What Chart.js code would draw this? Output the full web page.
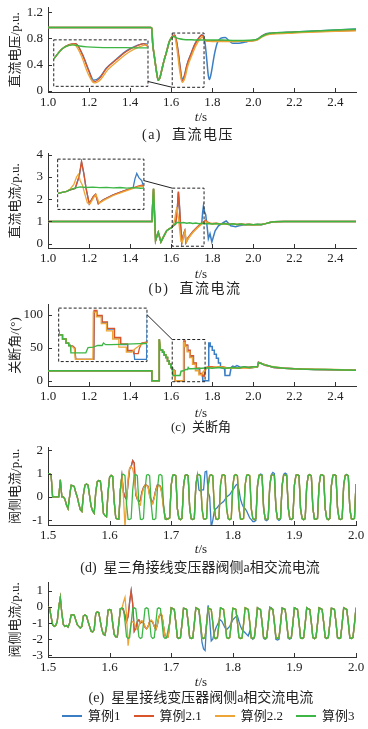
<!DOCTYPE html>
<html>
<head>
<meta charset="utf-8">
<script src="https://cdn.jsdelivr.net/npm/chart.js@4.4.1/dist/chart.umd.min.js"></script>
<style>
  html, body { margin: 0; padding: 0; background: #fff; }
  #page { position: relative; width: 368px; height: 729px; overflow: hidden;
          font-family: 'Liberation Serif', 'Noto Sans CJK SC', serif; color: #222; }
  #page canvas { position: absolute; left: 0; }
  .lbl { position: absolute; white-space: nowrap; line-height: 16px; transform: translateX(-50%); }
  .xt { font-size: 13px; }
  .cap { font-size: 14px; }
  #legend { position: absolute; top: 708px; left: 62px; display: flex; gap: 13px; font-size: 13px; line-height: 16px; }
  #legend span.item { display: flex; align-items: center; gap: 6px; }
  #legend span.swatch { display: inline-block; width: 20px; height: 2px; }
</style>
</head>
<body>
<div id="page"></div>
<script>
// ---- series names / colours ----
const CASE_NAMES = ['算例1', '算例2.1', '算例2.2', '算例3'];
const COLORS = ['#3b7ec4', '#d9542b', '#eca536', '#3db646'];

// ---- (a) 直流电压, [t, p.u.] ----
const vdcCommon = [[1.0,0.97],[1.5,0.97],[1.505,0.96],[1.51,0.72],[1.52,0.48],[1.53,0.26],[1.537,0.16],[1.545,0.2],[1.555,0.33],[1.565,0.46],[1.576,0.58],[1.592,0.76]];
const vdcCase1 = vdcCommon.concat([[1.605,0.83],[1.618,0.85],[1.631,0.66],[1.644,0.35],[1.653,0.18],[1.664,0.23],[1.677,0.4],[1.697,0.57],[1.716,0.72],[1.736,0.815],[1.75,0.855],[1.758,0.84],[1.766,0.7],[1.774,0.45],[1.78,0.25],[1.786,0.17],[1.795,0.27],[1.81,0.55],[1.825,0.74],[1.84,0.8],[1.863,0.815],[1.88,0.77],[1.9,0.725],[1.93,0.725],[1.96,0.745],[1.98,0.76],[2.0,0.77],[2.02,0.79],[2.04,0.835],[2.06,0.87],[2.08,0.88],[2.1,0.885],[2.2,0.9],[2.3,0.915],[2.4,0.93],[2.5,0.945]]);
const vdcCase21 = vdcCommon.concat([[1.605,0.835],[1.618,0.855],[1.631,0.65],[1.644,0.33],[1.652,0.15],[1.664,0.21],[1.677,0.39],[1.697,0.56],[1.716,0.71],[1.736,0.81],[1.749,0.855],[1.758,0.8],[1.765,0.77],[1.78,0.76],[1.8,0.765],[1.85,0.765],[1.9,0.76],[1.95,0.765],[2.0,0.77],[2.02,0.785],[2.04,0.83],[2.06,0.865],[2.08,0.875],[2.1,0.88],[2.2,0.895],[2.3,0.905],[2.4,0.915],[2.5,0.925]]);
const vdcCase22 = vdcCommon.concat([[1.605,0.82],[1.615,0.837],[1.628,0.65],[1.642,0.3],[1.654,0.13],[1.666,0.19],[1.68,0.37],[1.7,0.54],[1.72,0.69],[1.74,0.79],[1.755,0.83],[1.762,0.79],[1.77,0.765],[1.8,0.755],[1.85,0.755],[1.9,0.755],[1.95,0.76],[2.0,0.765],[2.02,0.78],[2.04,0.82],[2.06,0.85],[2.08,0.865],[2.1,0.87],[2.2,0.885],[2.3,0.9],[2.4,0.91],[2.5,0.92]]);
const vdcCase3 = vdcCommon.concat([[1.605,0.82],[1.612,0.83],[1.625,0.81],[1.64,0.795],[1.66,0.785],[1.7,0.78],[1.75,0.775],[1.8,0.775],[1.85,0.775],[1.9,0.77],[1.95,0.77],[2.0,0.775],[2.02,0.79],[2.04,0.83],[2.06,0.86],[2.08,0.88],[2.1,0.885],[2.2,0.9],[2.3,0.915],[2.4,0.93],[2.5,0.94]]);

// ---- (b) 直流电流 ----
const idcCommon = [[1.0,1.0],[1.506,1.0],[1.511,2.0],[1.514,2.47],[1.518,1.5],[1.524,0.14],[1.53,0.32],[1.537,0.51],[1.543,0.3],[1.55,0.07],[1.561,0.28],[1.578,0.58],[1.59,0.66],[1.602,0.72]];
const idcCase1 = idcCommon.concat([[1.61,0.8],[1.621,0.88],[1.63,1.55],[1.635,2.3],[1.64,1.7],[1.645,0.88],[1.652,0.06],[1.661,0.44],[1.666,0.56],[1.672,0.06],[1.683,0.27],[1.705,0.53],[1.727,0.74],[1.749,0.93],[1.753,1.4],[1.757,1.69],[1.762,1.45],[1.768,1.3],[1.775,0.75],[1.781,0.22],[1.789,0.44],[1.798,0.07],[1.814,0.58],[1.83,0.8],[1.855,0.95],[1.868,1.02],[1.875,0.95],[1.89,0.8],[1.914,0.76],[1.93,0.8],[1.95,0.84],[1.97,0.86],[1.99,0.84],[2.0,0.85],[2.02,0.86],[2.04,0.85],[2.06,0.9],[2.08,0.95],[2.1,0.98],[2.15,0.99],[2.2,1.0],[2.3,0.99],[2.4,1.0],[2.5,1.0]]);
const idcCase21 = idcCommon.concat([[1.61,0.8],[1.621,0.88],[1.63,1.57],[1.635,2.35],[1.64,1.7],[1.645,0.88],[1.652,0.05],[1.661,0.445],[1.666,0.565],[1.672,0.05],[1.683,0.27],[1.705,0.53],[1.727,0.74],[1.749,0.91],[1.76,1.0],[1.768,1.05],[1.775,0.97],[1.79,0.92],[1.8,0.9],[1.82,0.92],[1.84,0.88],[1.86,0.9],[1.88,0.87],[1.9,0.89],[1.92,0.86],[1.94,0.88],[1.96,0.86],[1.98,0.87],[2.0,0.85],[2.02,0.86],[2.04,0.86],[2.06,0.9],[2.08,0.95],[2.1,0.98],[2.15,1.0],[2.2,0.99],[2.3,1.0],[2.4,0.99],[2.5,1.0]]);
const idcCase22 = idcCommon.concat([[1.61,0.85],[1.618,1.1],[1.624,1.5],[1.628,1.65],[1.632,1.3],[1.637,1.05],[1.642,0.6],[1.648,0.1],[1.654,0.06],[1.662,0.4],[1.667,0.55],[1.674,0.08],[1.685,0.25],[1.705,0.5],[1.727,0.7],[1.749,0.88],[1.76,0.97],[1.768,1.0],[1.775,0.94],[1.79,0.91],[1.8,0.89],[1.82,0.91],[1.84,0.87],[1.86,0.89],[1.88,0.86],[1.9,0.88],[1.92,0.86],[1.94,0.87],[1.96,0.85],[1.98,0.86],[2.0,0.84],[2.02,0.85],[2.04,0.86],[2.06,0.9],[2.08,0.95],[2.1,0.98],[2.15,0.99],[2.2,1.0],[2.3,0.99],[2.4,1.0],[2.5,1.0]]);
const idcCase3 = idcCommon.concat([[1.61,0.82],[1.62,0.9],[1.632,0.96],[1.645,0.93],[1.66,0.95],[1.675,0.92],[1.69,0.94],[1.705,0.91],[1.72,0.93],[1.735,0.9],[1.75,0.92],[1.765,0.89],[1.78,0.91],[1.8,0.88],[1.82,0.9],[1.84,0.87],[1.86,0.9],[1.88,0.86],[1.9,0.89],[1.92,0.86],[1.94,0.88],[1.96,0.85],[1.98,0.87],[2.0,0.85],[2.02,0.87],[2.04,0.86],[2.06,0.9],[2.08,0.95],[2.1,0.98],[2.15,0.99],[2.2,1.0],[2.5,1.0]]);

// ---- (c) 关断角, degrees ----
const gamCommon = [[1.0,15],[1.505,15],[1.506,0],[1.541,0],[1.542,63],[1.546,48],[1.552,46],[1.558,46],[1.558,43],[1.566,43],[1.566,39],[1.574,39],[1.574,35],[1.582,35],[1.582,30],[1.59,30],[1.59,25],[1.598,25],[1.598,20],[1.604,20],[1.604,17]];
const gamCase1 = gamCommon.concat([[1.608,17],[1.614,16],[1.618,14],[1.62,0],[1.661,0],[1.662,59],[1.668,59],[1.668,53],[1.68,53],[1.68,45],[1.692,45],[1.692,37],[1.708,37],[1.708,26],[1.722,26],[1.722,18],[1.738,18],[1.738,10],[1.752,10],[1.754,0],[1.781,0],[1.783,57],[1.79,57],[1.79,52],[1.8,52],[1.8,46],[1.81,46],[1.81,40],[1.82,40],[1.82,34],[1.83,34],[1.83,27],[1.84,27],[1.84,20],[1.86,18],[1.862,8],[1.885,8],[1.892,20],[1.9,22],[1.91,21],[1.92,23],[1.94,20],[1.96,21],[1.98,19],[2.0,20],[2.02,21],[2.025,28],[2.04,26],[2.06,24],[2.08,22],[2.1,20],[2.15,19],[2.2,18],[2.3,17],[2.4,16.5],[2.5,16]]);
const gamCase21 = gamCommon.concat([[1.608,17],[1.614,16],[1.618,14],[1.62,0],[1.661,0],[1.662,60],[1.668,60],[1.668,54],[1.68,54],[1.68,46],[1.692,46],[1.692,38],[1.708,38],[1.708,27],[1.722,27],[1.722,19],[1.738,19],[1.738,11],[1.752,11],[1.752,7],[1.762,7],[1.765,14],[1.77,20],[1.78,21],[1.8,21],[1.82,20],[1.85,21],[1.88,19],[1.9,20],[1.93,19],[1.96,20],[2.0,21],[2.02,21],[2.025,28],[2.04,26],[2.06,23],[2.08,22],[2.1,20],[2.15,19],[2.2,18],[2.3,17],[2.4,16.5],[2.5,16]]);
const gamCase22 = gamCommon.concat([[1.608,17],[1.614,15],[1.617,13],[1.619,0],[1.659,0],[1.66,58],[1.667,58],[1.667,52],[1.678,52],[1.678,44],[1.69,44],[1.69,35],[1.704,35],[1.704,25],[1.718,25],[1.718,15],[1.735,15],[1.735,9],[1.748,9],[1.755,13],[1.765,17],[1.775,20],[1.8,20],[1.83,21],[1.86,20],[1.9,19],[1.94,20],[1.97,19],[2.0,20],[2.02,21],[2.025,27],[2.04,26],[2.06,24],[2.08,22],[2.1,21],[2.15,19],[2.2,18],[2.3,17.5],[2.4,17],[2.5,16]]);
const gamCase3 = gamCommon.concat([[1.608,17],[1.609,8],[1.643,8],[1.648,14.5],[1.66,15],[1.67,17],[1.68,17],[1.683,20],[1.688,18],[1.7,18],[1.72,18.5],[1.75,19],[1.78,19.5],[1.8,19],[1.83,20],[1.86,19],[1.9,20],[1.93,19],[1.95,21],[1.98,20],[2.0,21],[2.02,21],[2.025,27],[2.04,26],[2.05,24],[2.07,23],[2.09,21],[2.12,20],[2.15,19],[2.2,18],[2.25,17.5],[2.3,17],[2.35,17],[2.4,16.5],[2.5,16]]);

// ---- (d)/(e) 阀侧电流, sampled every 2.5 ms from 1.5 s ----
const AC_T0 = 1.5, AC_DT = 0.0025;
const acdCase3 = [
  1.0, 1.0, 0.95, 0.0, 0.0, 0.0, 0.0, 0.0,
  0.73, 0.0, 0.0, -0.1, -0.35, -0.5, 0.0, 0.5,
  0.48, 0.45, 0.2, 0.0, -0.3, -0.55, -0.62, 0.1,
  0.5, 0.55, 0.5, 0.05, -0.4, -0.6, -0.7, 0.2,
  0.65, 0.7, 0.68, 0.1, -0.7, -0.8, -0.85, 0.2,
  0.85, 0.92, 0.88, -0.2, -0.9, -0.95, -0.95, 0.3,
  0.95, 0.97, 0.9, -0.3, -0.95, -0.97, -0.92, 0.3,
  0.93, 0.96, 0.9, -0.3, -0.95, -0.97, -0.92, 0.3,
  0.93, 0.96, 0.9, -0.3, -0.95, -0.97, -0.92, 0.3,
  0.93, 0.96, 0.9, -0.3, -0.95, -0.97, -0.92, -0.9,
  0.5, 0.93, 0.95, 0.9, -0.5, -0.93, -0.97, -0.92,
  0.45, 0.92, 0.95, 0.91, -0.45, -0.94, -0.97, -0.93,
  0.5, 0.93, 0.96, 0.9, -0.5, -0.93, -0.96, -0.92,
  0.48, 0.92, 0.95, 0.9, -0.48, -0.94, -0.97, -0.92,
  0.5, 0.93, 0.95, 0.91, -0.5, -0.93, -0.97, -0.93,
  0.47, 0.92, 0.96, 0.9, -0.47, -0.94, -0.96, -0.92,
  0.5, 0.93, 0.95, 0.9, -0.5, -0.93, -0.97, -0.92,
  0.48, 0.93, 0.95, 0.91, -0.48, -0.94, -0.97, -0.93,
  0.5, 0.92, 0.96, 0.9, -0.5, -0.93, -0.96, -0.92,
  0.47, 0.93, 0.95, 0.9, -0.47, -0.94, -0.97, -0.92,
  0.5, 0.93, 0.95, 0.91, -0.5, -0.93, -0.97, -0.93,
  0.48, 0.92, 0.96, 0.9, -0.48, -0.94, -0.96, -0.92,
  0.5, 0.93, 0.95, 0.9, -0.5, -0.93, -0.97, -0.92,
  0.47, 0.93, 0.95, 0.91, -0.47, -0.94, -0.97, -0.93,
  0.5, 0.92, 0.96, 0.9, -0.5, -0.93, -0.96, -0.92,
  0.55
];
// deviations from 算例3, starting at sample 48 (1.62 s) and 97 (1.7425 s)
const acdSeg21 = [0.9, 0.2, 0.0, -0.1, 0.6, 1.2, 1.3, 1.55, 1.45, 0.1, -0.1, -0.2, -0.15, 0.2, 0.4, 0.5,
  0.5, 0.45, 0.1, -0.15, -0.25, 0.0, 0.3, 0.5, 0.5, 0.45, 0.2, -0.4, -0.85, -0.95, -0.95, -0.9];
const acdSeg22 = [0.9, 0.0, -1.3, -0.2, 0.8, 1.25, 1.3, 1.2, 0.9, 0.2, -0.05, -0.3, -0.35, 0.1, 0.35, 0.48,
  0.5, 0.42, 0.0, -0.2, -0.3, -0.05, 0.25, 0.45, 0.48, 0.4, 0.1, -0.5, -0.9, -0.97, -0.95, -0.9];
const acdSeg1 = [0.93, 0.3, 0.25, 0.3, 0.3, 1.07, 1.1, 0.2, 0.0, -1.3, -1.0, -0.6, -0.5, -0.45, -0.35, -0.3,
  -0.25, -0.2, -0.1, 0.0, 0.05, 0.1, 0.2, 0.3, 0.4, 0.5, 0.55, 0.3, -0.1, -0.3, -0.45, -0.5,
  -0.6, -0.75, -0.9, -0.97, -1.05, -1.05, -1.0,
  0.4, 0.9, 0.98, 0.95, -0.4, -0.98, -1.02, -0.95,
  0.4, 0.95, 1.05, 1.0, -0.4, -0.95, -1.0, -0.95,
  0.45, 0.97, 1.02, 0.98, -0.45, -0.95, -0.97, -0.92];

const aceCase3 = [
  0.0, -0.05, -0.6, -1.1, -1.2, -1.15, -0.9, 0.0,
  0.6, -0.4, -1.1, -1.2, -1.15, -1.25, -1.0, -0.5,
  -0.48, -0.5, -0.8, -1.1, -1.2, -1.3, -1.2, -0.55,
  -0.5, -0.55, -0.9, -1.2, -1.5, -1.55, -1.4, -0.4,
  -0.3, -0.35, -0.9, -1.4, -1.7, -1.75, -1.2, -0.2,
  -0.15, -0.2, -1.0, -1.7, -1.85, -1.85, -1.0, -0.1,
  -0.05, -0.1, -0.9, -1.85, -1.95, -1.9, -1.0, -0.1,
  -0.05, -0.1, -0.9, -1.85, -1.95, -1.9, -1.0, -0.1,
  -0.05, -0.1, -0.9, -1.85, -1.95, -1.9, -1.0, -0.1,
  -0.05, -0.1, -0.9, -1.85, -1.95, -1.9, -1.4, -1.0,
  -0.05, -0.1, -0.15, -0.95, -1.9, -1.95, -1.9, -1.05,
  -0.08, -0.1, -0.15, -0.95, -1.9, -1.95, -1.92, -1.05,
  -0.05, -0.1, -0.15, -0.95, -1.92, -1.95, -1.9, -1.05,
  -0.05, -0.12, -0.15, -0.95, -1.9, -1.96, -1.9, -1.05,
  -0.05, -0.1, -0.15, -0.95, -1.9, -1.95, -1.9, -1.05,
  -0.08, -0.1, -0.15, -0.95, -1.9, -1.95, -1.92, -1.05,
  -0.05, -0.1, -0.15, -0.95, -1.92, -1.95, -1.9, -1.05,
  -0.05, -0.12, -0.15, -0.95, -1.9, -1.96, -1.9, -1.05,
  -0.05, -0.1, -0.15, -0.95, -1.9, -1.95, -1.9, -1.05,
  -0.08, -0.1, -0.15, -0.95, -1.9, -1.95, -1.92, -1.05,
  -0.05, -0.1, -0.15, -0.95, -1.92, -1.95, -1.9, -1.05,
  -0.05, -0.12, -0.15, -0.95, -1.9, -1.96, -1.9, -1.05,
  -0.05, -0.1, -0.15, -0.95, -1.9, -1.95, -1.9, -1.05,
  -0.08, -0.1, -0.15, -0.95, -1.9, -1.95, -1.92, -1.05,
  -0.05, -0.1, -0.15, -0.95, -1.92, -1.95, -1.9, -1.05,
  -0.05
];
const aceSeg21 = [-0.1, -0.2, -0.5, -0.9, -0.6, 0.3, 1.0, 0.2, -1.5, -1.3, -0.9, -0.8, -1.0, -0.9, -1.0, -1.25,
  -1.35, -1.2, -0.9, -0.85, -0.95, -1.2, -1.4, -1.1, -0.6, -0.45, -0.55, -1.2, -1.8, -1.9, -1.85, -1.0];
const aceSeg22 = [-0.1, 0.3, 0.6, -0.5, -2.4, -1.6, -1.0, -0.9, -1.0, -1.3, -1.4, -1.2, -0.9, -0.85, -1.0, -1.2,
  -1.35, -1.2, -0.9, -0.8, -0.9, -1.2, -1.4, -1.1, -0.6, -0.4, -0.5, -1.2, -1.8, -1.9, -1.85, -1.0];
const aceSeg1 = [-0.2, -1.2, -2.2, -2.6, -2.7, -1.0, 0.1, -0.8, -2.1, -2.0, -1.6, -1.3, -1.1, -0.9, -0.8, -0.9,
  -1.1, -1.3, -1.4, -1.3, -1.2, -1.0, -0.8, -0.7, -0.6, -0.55, -0.9, -1.2, -1.4, -1.5, -1.6, -1.7,
  -1.8, -1.5, -1.9, -2.0, -1.9, -1.1,
  -0.05, -0.1, -0.2, -1.0, -1.95, -2.0, -1.95, -1.05,
  0.0, -0.05, -0.15, -1.0, -2.0, -2.05, -2.0, -1.1,
  -0.05, -0.1, -0.15, -1.0, -1.95, -2.0, -1.9, -1.05];

function withSegment(base, start, seg) {
  return base.map((v, i) => (i >= start && i < start + seg.length) ? seg[i - start] : v);
}
function toPoints(vals) {
  return vals.map((v, i) => [AC_T0 + i * AC_DT, v]);
}
const acdSeries = [
  withSegment(withSegment(acdCase3, 48, acdSeg21), 97, acdSeg1),
  withSegment(acdCase3, 48, acdSeg21),
  withSegment(acdCase3, 48, acdSeg22),
  acdCase3
].map(toPoints);
const aceSeries = [
  withSegment(withSegment(aceCase3, 48, aceSeg21), 98, aceSeg1),
  withSegment(aceCase3, 48, aceSeg21),
  withSegment(aceCase3, 48, aceSeg22),
  aceCase3
].map(toPoints);

// ---- plugins ----
// MATLAB-like inward ticks
const inwardTicks = {
  id: 'inwardTicks',
  afterDraw(chart) {
    const { ctx, chartArea: a, scales: { x, y } } = chart;
    ctx.save();
    ctx.strokeStyle = '#333';
    ctx.lineWidth = 1;
    ctx.beginPath();
    x.ticks.forEach(t => {
      const px = Math.round(x.getPixelForValue(t.value)) + 0.5;
      ctx.moveTo(px, a.bottom); ctx.lineTo(px, a.bottom - 4);
    });
    y.ticks.forEach(t => {
      const py = Math.round(y.getPixelForValue(t.value)) + 0.5;
      ctx.moveTo(a.left, py); ctx.lineTo(a.left + 4, py);
    });
    ctx.stroke();
    ctx.restore();
  }
};

// dashed zoom box, inset frame and the line joining them (data coords of the main chart)
const zoomBox = {
  id: 'zoomBox',
  afterDatasetsDraw(chart, args, o) {
    if (!o || !o.box) return;
    const { ctx, scales: { x, y } } = chart;
    const X = v => x.getPixelForValue(v), Y = v => y.getPixelForValue(v);
    ctx.save();
    ctx.strokeStyle = '#222';
    ctx.lineWidth = 1;
    ctx.setLineDash([3, 2]);
    [o.box, o.inset].forEach(r => {
      ctx.strokeRect(X(r[0]), Y(r[3]), X(r[1]) - X(r[0]), Y(r[2]) - Y(r[3]));
    });
    ctx.setLineDash([]);
    ctx.beginPath();
    ctx.moveTo(X(o.link[0]), Y(o.link[1]));
    ctx.lineTo(X(o.link[2]), Y(o.link[3]));
    ctx.stroke();
    ctx.restore();
  }
};

Chart.defaults.font.family = "'Liberation Serif', 'Noto Sans CJK SC', serif";
Chart.defaults.font.size = 13;
Chart.defaults.color = '#222';

const page = document.getElementById('page');

// later cases are drawn on top (算例3 last), as in the figure
function datasets(series, lw, smooth) {
  return series.map((d, k) => ({
    label: CASE_NAMES[k],
    data: d,
    order: series.length - 1 - k,
    borderColor: COLORS[k],
    backgroundColor: COLORS[k],
    borderWidth: lw,
    pointRadius: 0,
    fill: false,
    tension: 0,
    cubicInterpolationMode: smooth ? 'monotone' : 'default'
  }));
}

function makeChart(cfg) {
  const cv = document.createElement('canvas');
  cv.width = 368;
  cv.height = cfg.height;
  cv.style.top = cfg.top + 'px';
  page.appendChild(cv);
  const chart = new Chart(cv, {
    type: 'line',
    data: { datasets: datasets(cfg.series, cfg.lw, cfg.smooth) },
    options: {
      responsive: false,
      animation: false,
      events: [],
      layout: { padding: { top: 10, right: 12, left: 0, bottom: 0 } },
      plugins: {
        legend: { display: false },
        tooltip: { enabled: false },
        zoomBox: cfg.zoom || {}
      },
      scales: {
        x: {
          type: 'linear', min: cfg.xMin, max: cfg.xMax,
          grid: { display: false, drawTicks: false },
          border: { display: true, color: '#333' },
          afterFit: s => { s.height = 20; },
          ticks: { stepSize: cfg.xStep, includeBounds: false, padding: 3, autoSkip: false, maxRotation: 0,
                   callback: v => v.toFixed(1) }
        },
        y: {
          type: 'linear', min: cfg.yMin, max: cfg.yMax,
          grid: { display: false, drawTicks: false },
          border: { display: true, color: '#333' },
          afterFit: s => { s.width = 48; },
          title: { display: true, text: cfg.yTitle, padding: { top: 8, bottom: 0 } },
          ticks: { stepSize: cfg.yStep, includeBounds: false, padding: 5, autoSkip: false,
                   callback: cfg.yFmt || (v => String(v)) }
        }
      }
    },
    plugins: [inwardTicks, zoomBox]
  });
  if (cfg.zoom) addInset(chart, cfg);
  return chart;
}

function addInset(main, cfg) {
  const { x, y } = main.scales;
  const r = cfg.zoom.inset, v = cfg.zoom.view;
  const left = x.getPixelForValue(r[0]), right = x.getPixelForValue(r[1]);
  const top = y.getPixelForValue(r[3]), bottom = y.getPixelForValue(r[2]);
  const cv = document.createElement('canvas');
  cv.width = Math.round(right - left);
  cv.height = Math.round(bottom - top);
  cv.style.left = left + 'px';
  cv.style.top = (cfg.top + top) + 'px';
  page.appendChild(cv);
  new Chart(cv, {
    type: 'line',
    data: { datasets: datasets(cfg.series, 1.3, cfg.smooth) },
    options: {
      responsive: false,
      animation: false,
      events: [],
      layout: { padding: 0 },
      plugins: { legend: { display: false }, tooltip: { enabled: false } },
      scales: {
        x: { type: 'linear', display: false, min: v[0], max: v[1] },
        y: { type: 'linear', display: false, min: v[2], max: v[3] }
      }
    }
  });
}

const oneDec = v => (v === 0 ? '0' : v.toFixed(1));

makeChart({
  top: -5, height: 117, series: [vdcCase1, vdcCase21, vdcCase22, vdcCase3], lw: 1.5, smooth: true,
  xMin: 1.0, xMax: 2.5, xStep: 0.2, yMin: -0.02, yMax: 1.27, yStep: 0.4, yFmt: oneDec,
  yTitle: '直流电压/p.u.',
  zoom: { box: [1.605, 1.76, 0.052, 0.883], inset: [1.028, 1.487, 0.067, 0.779],
          view: [1.576, 1.758, 0.074, 0.92], link: [1.487, 0.141, 1.605, 0.052] }
});
makeChart({
  top: 141, height: 127, series: [idcCase1, idcCase21, idcCase22, idcCase3], lw: 1.5,
  xMin: 1.0, xMax: 2.5, xStep: 0.2, yMin: -0.2, yMax: 4.05, yStep: 1,
  yTitle: '直流电流/p.u.',
  zoom: { box: [1.605, 1.76, -0.12, 2.5], inset: [1.047, 1.467, 1.54, 3.81],
          view: [1.583, 1.773, -0.23, 2.47], link: [1.467, 2.84, 1.605, 2.5] }
});
makeChart({
  top: 292, height: 114, series: [gamCase1, gamCase21, gamCase22, gamCase3], lw: 1.5,
  xMin: 1.0, xMax: 2.5, xStep: 0.2, yMin: -8, yMax: 115, yStep: 50,
  yTitle: '关断角/(°)',
  zoom: { box: [1.605, 1.765, -1.5, 62.4], inset: [1.052, 1.482, 29, 110],
          view: [1.582, 1.782, -2, 63], link: [1.482, 100, 1.605, 62.4] }
});
makeChart({
  top: 435, height: 110, series: acdSeries, lw: 1.3,
  xMin: 1.5, xMax: 2.0, xStep: 0.1, yMin: -1.2, yMax: 2.1, yStep: 1,
  yTitle: '阀侧电流/p.u.'
});
makeChart({
  top: 570, height: 107, series: aceSeries, lw: 1.3,
  xMin: 1.5, xMax: 2.0, xStep: 0.1, yMin: -3.1, yMax: 1.5, yStep: 1,
  yTitle: '阀侧电流/p.u.'
});

// ---- axis names, captions, legend ----
function label(cls, html, cx, cy, extra) {
  const d = document.createElement('div');
  d.className = 'lbl ' + cls;
  d.innerHTML = html;
  d.style.left = cx + 'px';
  d.style.top = (cy - 8) + 'px';
  if (extra) Object.assign(d.style, extra);
  page.appendChild(d);
}
[117, 274, 413, 549, 682].forEach(cy => label('xt', '<i>t</i>/s', 201, cy));
label('cap', '(a)&nbsp; 直流电压', 188, 135, { letterSpacing: '1.5px' });
label('cap', '(b)&nbsp; 直流电流', 195, 289, { letterSpacing: '1.5px' });
label('cap', '(c)&nbsp; 关断角', 201, 427, { fontSize: '13px' });
label('cap', '(d)&nbsp; 星三角接线变压器阀侧a相交流电流', 200, 568);
label('cap', '(e)&nbsp; 星星接线变压器阀侧a相交流电流', 201, 698);

const legend = document.createElement('div');
legend.id = 'legend';
CASE_NAMES.forEach((name, k) => {
  const item = document.createElement('span');
  item.className = 'item';
  item.innerHTML = '<span class="swatch" style="background:' + COLORS[k] + '"></span>' + name;
  legend.appendChild(item);
});
page.appendChild(legend);
</script>
</body>
</html>
